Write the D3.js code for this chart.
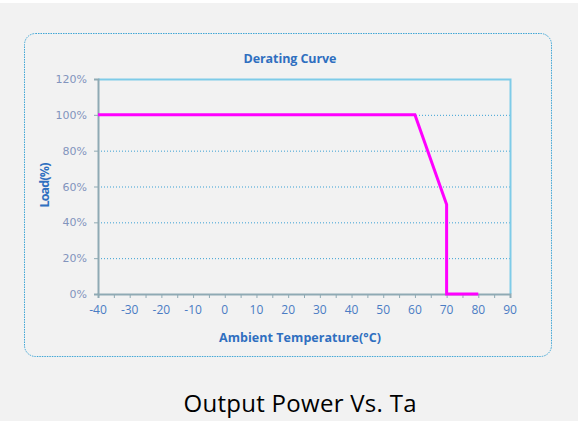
<!DOCTYPE html>
<html>
<head>
<meta charset="utf-8">
<script src="https://cdn.jsdelivr.net/npm/d3@7"></script>
<style>
  body { margin: 0; background: #f2f2f2; }
  svg { display: block; }
</style>
</head>
<body>
<svg id="chart" width="578" height="421"></svg>
<script>
// derating curve points (temperature in C, load in %)
var TEMPS = [-40, 60, 70, 70, 80];
var LOADS = [100, 100, 50, 0, 0];
var X_TICKS = [-40, -30, -20, -10, 0, 10, 20, 30, 40, 50, 60, 70, 80, 90];
var Y_TICKS = [0, 20, 40, 60, 80, 100, 120];
var TITLE = "Derating Curve";
var X_LABEL = "Ambient Temperature(°C)";
var Y_LABEL = "Load(%)";
var CAPTION = "Output Power Vs. Ta";

var svg = d3.select("#chart");

var LEFT = 98, RIGHT = 510, TOP = 79, BOTTOM = 294;

var x = d3.scaleLinear().domain([-40, 90]).range([LEFT, RIGHT]);
var y = d3.scaleLinear().domain([0, 120]).range([BOTTOM, TOP]);

// page bg + white strip on top
svg.append("rect").attr("width", 578).attr("height", 421).attr("fill", "#f2f2f2");
svg.append("rect").attr("width", 578).attr("height", 3).attr("fill", "#ffffff");

// dotted rounded frame
svg.append("rect")
   .attr("x", 24.5).attr("y", 33.5)
   .attr("width", 527).attr("height", 323)
   .attr("rx", 11).attr("ry", 11)
   .attr("fill", "none")
   .attr("stroke", "#3fa6d6")
   .attr("stroke-width", 1)
   .attr("stroke-dasharray", "1.5,1");

// grid lines
svg.append("g")
   .selectAll("line")
   .data(Y_TICKS.filter(function(d) { return d > 0 && d < 120; }))
   .join("line")
   .attr("x1", LEFT).attr("x2", RIGHT)
   .attr("y1", function(d) { return y(d) + 0.5; })
   .attr("y2", function(d) { return y(d) + 0.5; })
   .attr("stroke", "#3aa0d4")
   .attr("stroke-width", 1)
   .attr("stroke-dasharray", "1,2");

// top + right border
svg.append("path")
   .attr("d", "M" + LEFT + "," + (TOP + 0.5) + "H" + (RIGHT + 0.5) + "V" + BOTTOM)
   .attr("fill", "none")
   .attr("stroke", "#7ecbe8")
   .attr("stroke-width", 2);

// x axis
var xAxis = svg.append("g")
   .attr("transform", "translate(0," + BOTTOM + ")")
   .call(d3.axisBottom(x).tickValues(d3.range(-40, 91, 5)).tickSize(4).tickFormat(""));
xAxis.select(".domain").attr("stroke", "#8faab4").attr("stroke-width", 2);
xAxis.selectAll(".tick line").attr("stroke", "#8faab4");

svg.append("g")
   .selectAll("text")
   .data(X_TICKS)
   .join("text")
   .attr("x", function(d) { return x(d); })
   .attr("y", 314)
   .attr("text-anchor", "middle")
   .attr("font-family", "Open Sans, sans-serif")
   .attr("font-size", "12px")
   .attr("fill", "#4a7cc4")
   .text(function(d) { return d; });

// y axis
var yAxis = svg.append("g")
   .attr("transform", "translate(" + LEFT + ",0)")
   .call(d3.axisLeft(y).tickValues(Y_TICKS).tickSize(4).tickFormat(""));
yAxis.select(".domain").attr("stroke", "#8faab4").attr("stroke-width", 2);
yAxis.selectAll(".tick line").attr("stroke", "#8faab4");

svg.append("g")
   .selectAll("text")
   .data(Y_TICKS)
   .join("text")
   .attr("x", 87)
   .attr("y", function(d) { return y(d) + 4; })
   .attr("text-anchor", "end")
   .attr("font-family", "DejaVu Sans, sans-serif")
   .attr("font-size", "11px")
   .attr("fill", "#8294bd")
   .text(function(d) { return d + "%"; });

// curve
var points = TEMPS.map(function(t, i) { return [t, LOADS[i]]; });
var line = d3.line()
   .x(function(d) { return x(d[0]); })
   .y(function(d) { return y(d[1]); });

svg.append("path")
   .datum(points)
   .attr("d", line)
   .attr("fill", "none")
   .attr("stroke", "#ff00ff")
   .attr("stroke-width", 3)
   .attr("stroke-linejoin", "miter");

// titles
svg.append("text")
   .attr("x", 290).attr("y", 63)
   .attr("text-anchor", "middle")
   .attr("font-family", "Open Sans, sans-serif")
   .attr("font-weight", "bold")
   .attr("font-size", "12.5px")
   .attr("fill", "#2f6fc0")
   .attr("textLength", 93)
   .text(TITLE);

svg.append("text")
   .attr("x", 300).attr("y", 342)
   .attr("text-anchor", "middle")
   .attr("font-family", "Open Sans, sans-serif")
   .attr("font-weight", "bold")
   .attr("font-size", "12.5px")
   .attr("fill", "#2f6fc0")
   .attr("textLength", 162)
   .text(X_LABEL);

svg.append("text")
   .attr("transform", "translate(49,185) rotate(-90)")
   .attr("text-anchor", "middle")
   .attr("font-family", "Open Sans, sans-serif")
   .attr("font-weight", "bold")
   .attr("font-size", "12.5px")
   .attr("fill", "#2f6fc0")
   .attr("textLength", 45)
   .text(Y_LABEL);

svg.append("text")
   .attr("x", 300).attr("y", 412)
   .attr("text-anchor", "middle")
   .attr("font-family", "Open Sans, sans-serif")
   .attr("font-size", "24px")
   .attr("fill", "#000000")
   .attr("textLength", 233)
   .text(CAPTION);
</script>
</body>
</html>
